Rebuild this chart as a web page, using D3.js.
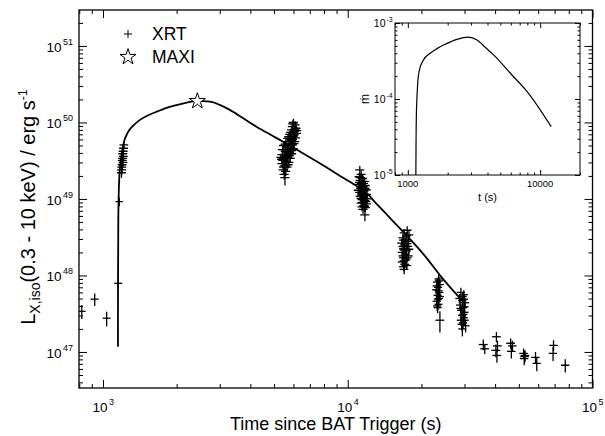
<!DOCTYPE html>
<html>
<head>
<meta charset="utf-8">
<script src="https://cdn.jsdelivr.net/npm/d3@7"></script>
<style>
  body { margin: 0; background: #fff; }
  svg { font-family: "Liberation Sans", Arial, sans-serif; }
  .tick line { stroke: #000; }
</style>
</head>
<body>
<div id="chart"></div>
<script>
// XRT rows: [time (s), time half-width, L_X,iso, L half-height]
const xrtEarly = [
  [819, 30, 3.4e47, 0.7e47],
  [925, 35, 4.9e47, 0.9e47],
  [1035, 38, 2.76e47, 0.6e47],
  [1155, 44, 7.9e47, 1.2e47],
  [1166, 40, 9.2e48, 1.2e48]
];
const xrtRise = [
  [1218, 50, 5.1e49, 5e48], [1214, 50, 4.6e49, 5e48], [1210, 50, 4.2e49, 5e48],
  [1206, 50, 3.9e49, 5e48], [1212, 50, 3.6e49, 4e48], [1204, 50, 3.4e49, 4e48],
  [1200, 50, 3.2e49, 4e48], [1208, 50, 3.0e49, 4e48], [1198, 50, 2.8e49, 4e48],
  [1195, 50, 2.6e49, 4e48], [1192, 50, 2.4e49, 3.5e48], [1190, 50, 2.2e49, 3e48]
];
const xrtOrbit2 = [
  [6000, 260, 1.0e50, 1.2e49], [6100, 260, 9.3e49, 1.1e49], [5950, 260, 8.8e49, 1.0e49],
  [6150, 260, 8.4e49, 1.0e49], [5900, 250, 8.0e49, 9e48], [6050, 260, 7.6e49, 9e48],
  [6180, 260, 7.2e49, 8e48], [5800, 250, 7.0e49, 8e48], [5980, 260, 6.6e49, 8e48],
  [6120, 260, 6.3e49, 7e48], [5700, 250, 6.2e49, 7e48], [5880, 250, 5.9e49, 7e48],
  [6080, 260, 5.6e49, 7e48], [5600, 240, 5.6e49, 7e48], [5760, 250, 5.3e49, 6e48],
  [5950, 260, 5.1e49, 6e48], [5480, 240, 5.0e49, 6e48], [5650, 240, 4.8e49, 6e48],
  [5850, 250, 4.6e49, 6e48], [6000, 260, 4.5e49, 5e48], [5420, 240, 4.4e49, 5e48],
  [5560, 240, 4.2e49, 5e48], [5740, 250, 4.1e49, 5e48], [5900, 250, 3.9e49, 5e48],
  [5400, 240, 3.8e49, 5e48], [5520, 240, 3.6e49, 4e48], [5680, 240, 3.5e49, 4e48],
  [5820, 250, 3.4e49, 4e48], [5440, 240, 3.2e49, 4e48], [5600, 240, 3.1e49, 4e48],
  [5750, 250, 3.0e49, 4e48], [5400, 240, 2.9e49, 4e48], [5520, 240, 2.7e49, 3e48],
  [5650, 240, 2.6e49, 3e48], [5460, 240, 2.4e49, 3e48], [5580, 240, 2.3e49, 3e48],
  [5500, 240, 2.1e49, 3e48], [5540, 240, 1.9e49, 4e48],
  [5450, 240, 3.4e49, 4e48], [5700, 250, 4.4e49, 5e48], [5820, 250, 5.6e49, 6e48],
  [5950, 260, 6.0e49, 7e48], [6050, 260, 6.9e49, 8e48], [6100, 260, 8.0e49, 9e48],
  [5850, 250, 7.4e49, 9e48], [5620, 240, 3.8e49, 4e48], [5380, 240, 3.3e49, 4e48],
  [5560, 240, 5.2e49, 6e48], [5780, 250, 3.7e49, 4e48], [5900, 250, 4.3e49, 5e48],
  [6030, 260, 5.3e49, 6e48], [5700, 250, 2.8e49, 3e48], [5480, 240, 2.6e49, 3e48],
  [5350, 240, 3.5e49, 4e48], [5650, 240, 4.0e49, 5e48], [5970, 260, 9.6e49, 1.1e49],
  [6200, 260, 7.8e49, 9e48], [5750, 250, 6.5e49, 8e48]
];
const xrtOrbit3 = [
  [11200, 480, 2.4e49, 3e48], [11350, 480, 2.1e49, 2.5e48], [11150, 480, 1.95e49, 2.3e48],
  [11500, 490, 1.85e49, 2.2e48], [11250, 480, 1.75e49, 2.1e48], [11700, 500, 1.7e49, 2e48],
  [11400, 490, 1.6e49, 2e48], [11100, 470, 1.55e49, 1.9e48], [11800, 500, 1.5e49, 1.8e48],
  [11550, 490, 1.45e49, 1.7e48], [11300, 480, 1.38e49, 1.7e48], [11900, 510, 1.32e49, 1.6e48],
  [11650, 500, 1.27e49, 1.5e48], [11200, 480, 1.22e49, 1.5e48], [11450, 490, 1.17e49, 1.4e48],
  [11850, 510, 1.12e49, 1.4e48], [11600, 500, 1.07e49, 1.3e48], [11350, 480, 1.02e49, 1.2e48],
  [12000, 510, 1.0e49, 1.2e48], [11750, 500, 9.5e48, 1.2e48], [11500, 490, 9.0e48, 1.1e48],
  [11950, 510, 8.6e48, 1.1e48], [11650, 500, 8.2e48, 1.0e48], [11800, 500, 7.7e48, 1.0e48],
  [11550, 490, 7.3e48, 9e47], [11750, 500, 6.2e48, 1.1e48],
  [11300, 480, 1.9e49, 2.2e48], [11600, 500, 1.6e49, 2e48], [11050, 470, 1.3e49, 1.6e48],
  [11750, 500, 1.38e49, 1.7e48], [11400, 490, 1.12e49, 1.4e48], [11950, 510, 1.15e49, 1.4e48],
  [11250, 480, 1.08e49, 1.3e48], [11700, 500, 1.02e49, 1.2e48], [11450, 490, 9.8e48, 1.2e48],
  [11850, 510, 9.2e48, 1.1e48], [11350, 480, 8.8e48, 1.1e48], [11700, 500, 8.0e48, 1.0e48],
  [11450, 490, 7.9e48, 1e48], [11200, 480, 1.65e49, 2e48]
];
const xrtOrbit4 = [
  [17500, 720, 3.9e48, 5e47], [17000, 700, 3.6e48, 4.5e47], [17800, 730, 3.4e48, 4e47],
  [16800, 690, 3.1e48, 4e47], [17300, 710, 2.95e48, 3.5e47], [17700, 730, 2.8e48, 3.5e47],
  [16600, 680, 2.65e48, 3.2e47], [17100, 700, 2.5e48, 3e47], [17600, 720, 2.4e48, 3e47],
  [16900, 690, 2.25e48, 2.8e47], [17400, 710, 2.1e48, 2.6e47], [16700, 690, 2.0e48, 2.5e47],
  [17200, 710, 1.9e48, 2.4e47], [17700, 730, 1.8e48, 2.3e47], [16900, 690, 1.7e48, 2.2e47],
  [17300, 710, 1.6e48, 2e47], [16700, 690, 1.5e48, 2e47], [17100, 700, 1.4e48, 1.8e47],
  [16900, 690, 1.3e48, 1.7e47], [17000, 700, 1.2e48, 1.6e47],
  [17400, 710, 3.3e48, 4e47], [16900, 690, 2.9e48, 3.5e47], [17500, 720, 2.6e48, 3e47],
  [17000, 700, 2.15e48, 2.6e47], [17800, 730, 2.2e48, 2.7e47], [16800, 690, 1.8e48, 2.2e47],
  [17500, 720, 1.7e48, 2.1e47], [17000, 700, 1.55e48, 2e47], [17400, 710, 1.35e48, 1.7e47],
  [16800, 690, 2.4e48, 3e47]
];
const xrtOrbit5 = [
  [23500, 900, 9.0e47, 1.3e47], [23200, 890, 8.2e47, 1.1e47], [23800, 910, 7.6e47, 1.0e47],
  [23400, 900, 7.0e47, 9e46], [23000, 880, 6.5e47, 9e46], [23700, 910, 6.0e47, 8e46],
  [23300, 890, 5.5e47, 8e46], [23600, 900, 5.0e47, 7e46], [23100, 880, 4.6e47, 7e46],
  [23500, 900, 4.2e47, 6e46], [23300, 890, 3.8e47, 6e46], [23800, 1000, 2.6e47, 8e46],
  [23600, 900, 8.5e47, 1.1e47], [23100, 880, 7.3e47, 1e47], [23500, 900, 6.3e47, 9e46],
  [23800, 910, 5.3e47, 8e46], [23400, 900, 4.9e47, 7e46], [23200, 890, 4.0e47, 6e46]
];
const xrtOrbit6 = [
  [29000, 1100, 6.0e47, 9e46], [29800, 1130, 5.6e47, 8e46], [28600, 1090, 5.0e47, 7e46],
  [29400, 1120, 4.7e47, 7e46], [30200, 1150, 4.4e47, 6e46], [28800, 1090, 4.1e47, 6e46],
  [29600, 1120, 3.8e47, 6e46], [29100, 1100, 3.5e47, 5e46], [30000, 1140, 3.3e47, 5e46],
  [29300, 1110, 3.0e47, 5e46], [29800, 1130, 2.8e47, 4e46], [29000, 1100, 2.6e47, 4e46],
  [29600, 1120, 2.4e47, 4e46], [30300, 1150, 2.2e47, 4e46], [29400, 1120, 2.0e47, 4e46],
  [29500, 1120, 5.3e47, 8e46], [30000, 1140, 3.9e47, 6e46], [28900, 1100, 3.7e47, 5e46],
  [29700, 1130, 3.1e47, 5e46], [30100, 1140, 2.6e47, 4e46], [29200, 1110, 2.3e47, 4e46],
  [29900, 1130, 4.9e47, 7e46]
];
const xrtLate = [
  [35800, 1500, 1.25e47, 2e46], [36300, 1500, 1.1e47, 1.6e46],
  [40500, 1700, 1.58e47, 2.4e46], [40900, 1700, 1.2e47, 2e46], [40300, 1700, 1.05e47, 2e46], [40700, 1700, 9.0e46, 1.8e46],
  [46300, 1900, 1.3e47, 2e46], [47100, 1900, 1.2e47, 2e46], [46600, 1900, 1.02e47, 2e46],
  [52300, 2100, 9.6e46, 1.5e46], [53000, 2100, 9.0e46, 1.5e46], [52800, 2100, 8.7e46, 1.5e46], [52600, 2100, 8.2e46, 1.5e46],
  [58500, 2300, 8.5e46, 1.5e46], [59200, 2300, 7.1e46, 1.5e46],
  [69300, 2700, 1.22e47, 2e46], [69000, 2700, 9.6e46, 2e46],
  [77400, 3000, 6.7e46, 1.3e46]
];
const maxiPoint = [[2430, 1.9e50]];

// model light curve
const modelTime = [1151, 1152, 1155, 1160, 1166, 1180, 1210, 1269, 1340, 1416, 1530, 1656, 1820, 1999,
  2200, 2427, 2735, 3000, 3297, 3700, 4236, 4800, 5444, 6400, 7688, 9500, 11000, 11800, 13000,
  15000, 17620, 20500, 24100, 29600];
const modelLum = [1.17e47, 8e47, 5.3e48, 1.2e49, 1.96e49, 3.0e49, 5.08e49, 7.6e49, 9.3e49, 1.08e50,
  1.24e50, 1.38e50, 1.55e50, 1.69e50, 1.82e50, 1.91e50, 1.87e50, 1.7e50, 1.46e50, 1.16e50, 8.8e49,
  7.0e49, 5.6e49, 4.15e49, 2.93e49, 1.92e49, 1.44e49, 1.24e49, 8.9e48, 5.5e48, 3.2e48, 1.86e48,
  9.6e47, 4.55e47];

// inset: accretion rate
const insetTime = [1150, 1153, 1156, 1160, 1170, 1190, 1224, 1312, 1475, 1660, 1862, 2100, 2350, 2878,
  3333, 3900, 4449, 5953, 7970, 12110];
const insetRate = [1e-5, 2.2e-5, 3.9e-5, 6e-5, 9.7e-5, 1.7e-4, 2.41e-4, 3.26e-4, 4.0e-4, 4.6e-4,
  5.14e-4, 5.65e-4, 6.1e-4, 6.5e-4, 5.97e-4, 4.68e-4, 3.8e-4, 2.18e-4, 1.25e-4, 4.33e-5];

const xMajorTicks = [1e3, 1e4, 1e5];
const xTickExp = ["3", "4", "5"];
const yMajorTicks = [1e47, 1e48, 1e49, 1e50, 1e51];
const yTickExp = ["47", "48", "49", "50", "51"];
const insetXTicks = [1000, 10000];
const insetXLabels = ["1000", "10000"];
const insetYTicks = [1e-3, 1e-4, 1e-5];
const insetYExp = ["-3", "-4", "-5"];

const width = 605, height = 436;
const margin = { top: 10, right: 12.5, bottom: 48, left: 79 };
const innerWidth = width - margin.left - margin.right;
const innerHeight = height - margin.top - margin.bottom;

const svg = d3.select("#chart").append("svg")
  .attr("width", width)
  .attr("height", height);

const xScale = d3.scaleLog().domain([798, 1e5]).range([0, innerWidth]);
const yScale = d3.scaleLog().domain([3.38e46, 2.95e51]).range([innerHeight, 0]);

const isDecade = v => Math.abs(Math.log10(v) - Math.round(Math.log10(v))) < 1e-6;

const g = svg.append("g").attr("transform", `translate(${margin.left},${margin.top})`);

g.append("clipPath").attr("id", "clip")
  .append("rect").attr("width", innerWidth).attr("height", innerHeight);

// axes: inward ticks on all four sides
function drawTicks(axisFn, scale, transform, size, values) {
  g.append("g")
    .attr("transform", transform)
    .call(axisFn(scale).tickValues(values).tickSizeInner(-size).tickSizeOuter(0).tickFormat(""))
    .call(s => s.select(".domain").remove());
}
const xMinor = xScale.ticks().filter(v => !isDecade(v));
const yMinor = yScale.ticks().filter(v => !isDecade(v));
drawTicks(d3.axisBottom, xScale, `translate(0,${innerHeight})`, 8, xMajorTicks);
drawTicks(d3.axisBottom, xScale, `translate(0,${innerHeight})`, 4, xMinor);
drawTicks(d3.axisTop, xScale, "translate(0,0)", 8, xMajorTicks);
drawTicks(d3.axisTop, xScale, "translate(0,0)", 4, xMinor);
drawTicks(d3.axisLeft, yScale, "translate(0,0)", 8, yMajorTicks);
drawTicks(d3.axisLeft, yScale, "translate(0,0)", 4, yMinor);
drawTicks(d3.axisRight, yScale, `translate(${innerWidth},0)`, 8, yMajorTicks);
drawTicks(d3.axisRight, yScale, `translate(${innerWidth},0)`, 4, yMinor);

g.append("rect")
  .attr("width", innerWidth).attr("height", innerHeight)
  .attr("fill", "none").attr("stroke", "#000").attr("stroke-width", 1.3);

// tick labels: base "10" and exponent as separate texts
g.selectAll(".xbase").data(xMajorTicks).join("text")
  .attr("x", d => xScale(d) + 4.5)
  .attr("y", innerHeight + 24)
  .attr("text-anchor", "end")
  .attr("font-size", 13.5)
  .text("10");
g.selectAll(".xexp").data(xMajorTicks).join("text")
  .attr("x", d => xScale(d) + 6)
  .attr("y", innerHeight + 17)
  .attr("font-size", 9)
  .text((d, i) => xTickExp[i]);

g.selectAll(".ybase").data(yMajorTicks).join("text")
  .attr("x", -17.5)
  .attr("y", d => yScale(d) + 6)
  .attr("text-anchor", "end")
  .attr("font-size", 13.5)
  .text("10");
g.selectAll(".yexp").data(yMajorTicks).join("text")
  .attr("x", -16)
  .attr("y", d => yScale(d) - 1)
  .attr("font-size", 9)
  .text((d, i) => yTickExp[i]);

// axis titles
svg.append("text")
  .attr("x", margin.left + innerWidth / 2)
  .attr("y", 430)
  .attr("text-anchor", "middle")
  .attr("font-size", 18)
  .text("Time since BAT Trigger (s)");

const yt = svg.append("text")
  .attr("transform", `translate(35,${margin.top + innerHeight / 2 + 8}) rotate(-90)`)
  .attr("text-anchor", "middle")
  .attr("font-size", 20);
yt.append("tspan").text("L");
yt.append("tspan").attr("font-size", 14).attr("dy", 5).text("X,iso");
yt.append("tspan").attr("dy", -5).text("(0.3 - 10 keV) / erg s");
yt.append("tspan").attr("font-size", 12.5).attr("dy", -8).text("-1");

// data
const plot = g.append("g").attr("clip-path", "url(#clip)");

const line = d3.line()
  .x(d => xScale(d[0]))
  .y(d => yScale(d[1]))
  .curve(d3.curveMonotoneX);

const allXrt = [].concat(xrtEarly, xrtRise, xrtOrbit2, xrtOrbit3, xrtOrbit4, xrtOrbit5, xrtOrbit6, xrtLate);
const crosses = plot.append("g").attr("stroke", "#000").attr("stroke-width", 1.3);
crosses.selectAll(".eh").data(allXrt).join("line")
  .attr("x1", d => xScale(d[0] - d[1]))
  .attr("x2", d => xScale(d[0] + d[1]))
  .attr("y1", d => yScale(d[2]))
  .attr("y2", d => yScale(d[2]));
crosses.selectAll(".ev").data(allXrt).join("line")
  .attr("x1", d => xScale(d[0]))
  .attr("x2", d => xScale(d[0]))
  .attr("y1", d => yScale(d[2] - d[3]))
  .attr("y2", d => yScale(d[2] + d[3]));

plot.append("path")
  .datum(d3.zip(modelTime, modelLum))
  .attr("d", line)
  .attr("fill", "none")
  .attr("stroke", "#000")
  .attr("stroke-width", 1.8);

const star = d3.symbol().type(d3.symbolStar).size(80);
plot.selectAll(".maxi").data(maxiPoint).join("path")
  .attr("transform", d => `translate(${xScale(d[0])},${yScale(d[1])})`)
  .attr("d", star)
  .attr("fill", "#fff")
  .attr("stroke", "#000")
  .attr("stroke-width", 1);

// legend
const leg = svg.append("g");
leg.append("path")
  .attr("d", "M124,34H132M128,30V38")
  .attr("stroke", "#000").attr("stroke-width", 1);
leg.append("text").attr("x", 152).attr("y", 40).attr("font-size", 17.5).text("XRT");
leg.append("path")
  .attr("transform", "translate(128,57)")
  .attr("d", star)
  .attr("fill", "#fff").attr("stroke", "#000").attr("stroke-width", 1);
leg.append("text").attr("x", 152).attr("y", 63).attr("font-size", 17.5).text("MAXI");

// inset
const ins = { left: 395, top: 23, width: 185, height: 152 };
const xi = d3.scaleLog().domain([800, 20000]).range([0, ins.width]);
const yi = d3.scaleLog().domain([1e-5, 1e-3]).range([ins.height, 0]);
const gi = svg.append("g").attr("transform", `translate(${ins.left},${ins.top})`);
gi.append("rect").attr("width", ins.width).attr("height", ins.height).attr("fill", "#fff");

function insetTicks(axisFn, scale, transform, size, values) {
  gi.append("g")
    .attr("transform", transform)
    .call(axisFn(scale).tickValues(values).tickSizeInner(-size).tickSizeOuter(0).tickFormat(""))
    .call(s => s.select(".domain").remove());
}
const xiMinor = xi.ticks().filter(v => !isDecade(v));
const yiMinor = yi.ticks().filter(v => !isDecade(v));
insetTicks(d3.axisBottom, xi, `translate(0,${ins.height})`, 5, insetXTicks);
insetTicks(d3.axisBottom, xi, `translate(0,${ins.height})`, 2.5, xiMinor);
insetTicks(d3.axisTop, xi, "translate(0,0)", 5, insetXTicks);
insetTicks(d3.axisTop, xi, "translate(0,0)", 2.5, xiMinor);
insetTicks(d3.axisLeft, yi, "translate(0,0)", 5, insetYTicks);
insetTicks(d3.axisLeft, yi, "translate(0,0)", 2.5, yiMinor);
insetTicks(d3.axisRight, yi, `translate(${ins.width},0)`, 5, insetYTicks);
insetTicks(d3.axisRight, yi, `translate(${ins.width},0)`, 2.5, yiMinor);

gi.append("rect").attr("width", ins.width).attr("height", ins.height)
  .attr("fill", "none").attr("stroke", "#000").attr("stroke-width", 1);

gi.append("path")
  .datum(d3.zip(insetTime, insetRate))
  .attr("d", d3.line().x(d => xi(d[0])).y(d => yi(d[1])).curve(d3.curveMonotoneX))
  .attr("fill", "none").attr("stroke", "#000").attr("stroke-width", 1.2);

gi.selectAll(".ixl").data(insetXTicks).join("text")
  .attr("x", d => xi(d)).attr("y", ins.height + 12)
  .attr("text-anchor", "middle").attr("font-size", 9.5)
  .text((d, i) => insetXLabels[i]);

gi.selectAll(".iybase").data(insetYTicks).join("text")
  .attr("x", -9.5).attr("y", d => yi(d) + 4)
  .attr("text-anchor", "end").attr("font-size", 10.5)
  .text("10");
gi.selectAll(".iyexp").data(insetYTicks).join("text")
  .attr("x", -8.5).attr("y", d => yi(d) - 1.5)
  .attr("font-size", 7)
  .text((d, i) => insetYExp[i]);

gi.append("text")
  .attr("x", ins.width / 2).attr("y", ins.height + 26)
  .attr("text-anchor", "middle").attr("font-size", 11)
  .text("t (s)");
gi.append("text")
  .attr("transform", `translate(-26,${yi(1e-4)}) rotate(-90)`)
  .attr("text-anchor", "middle").attr("font-size", 12)
  .text("ṁ");
</script>
</body>
</html>
